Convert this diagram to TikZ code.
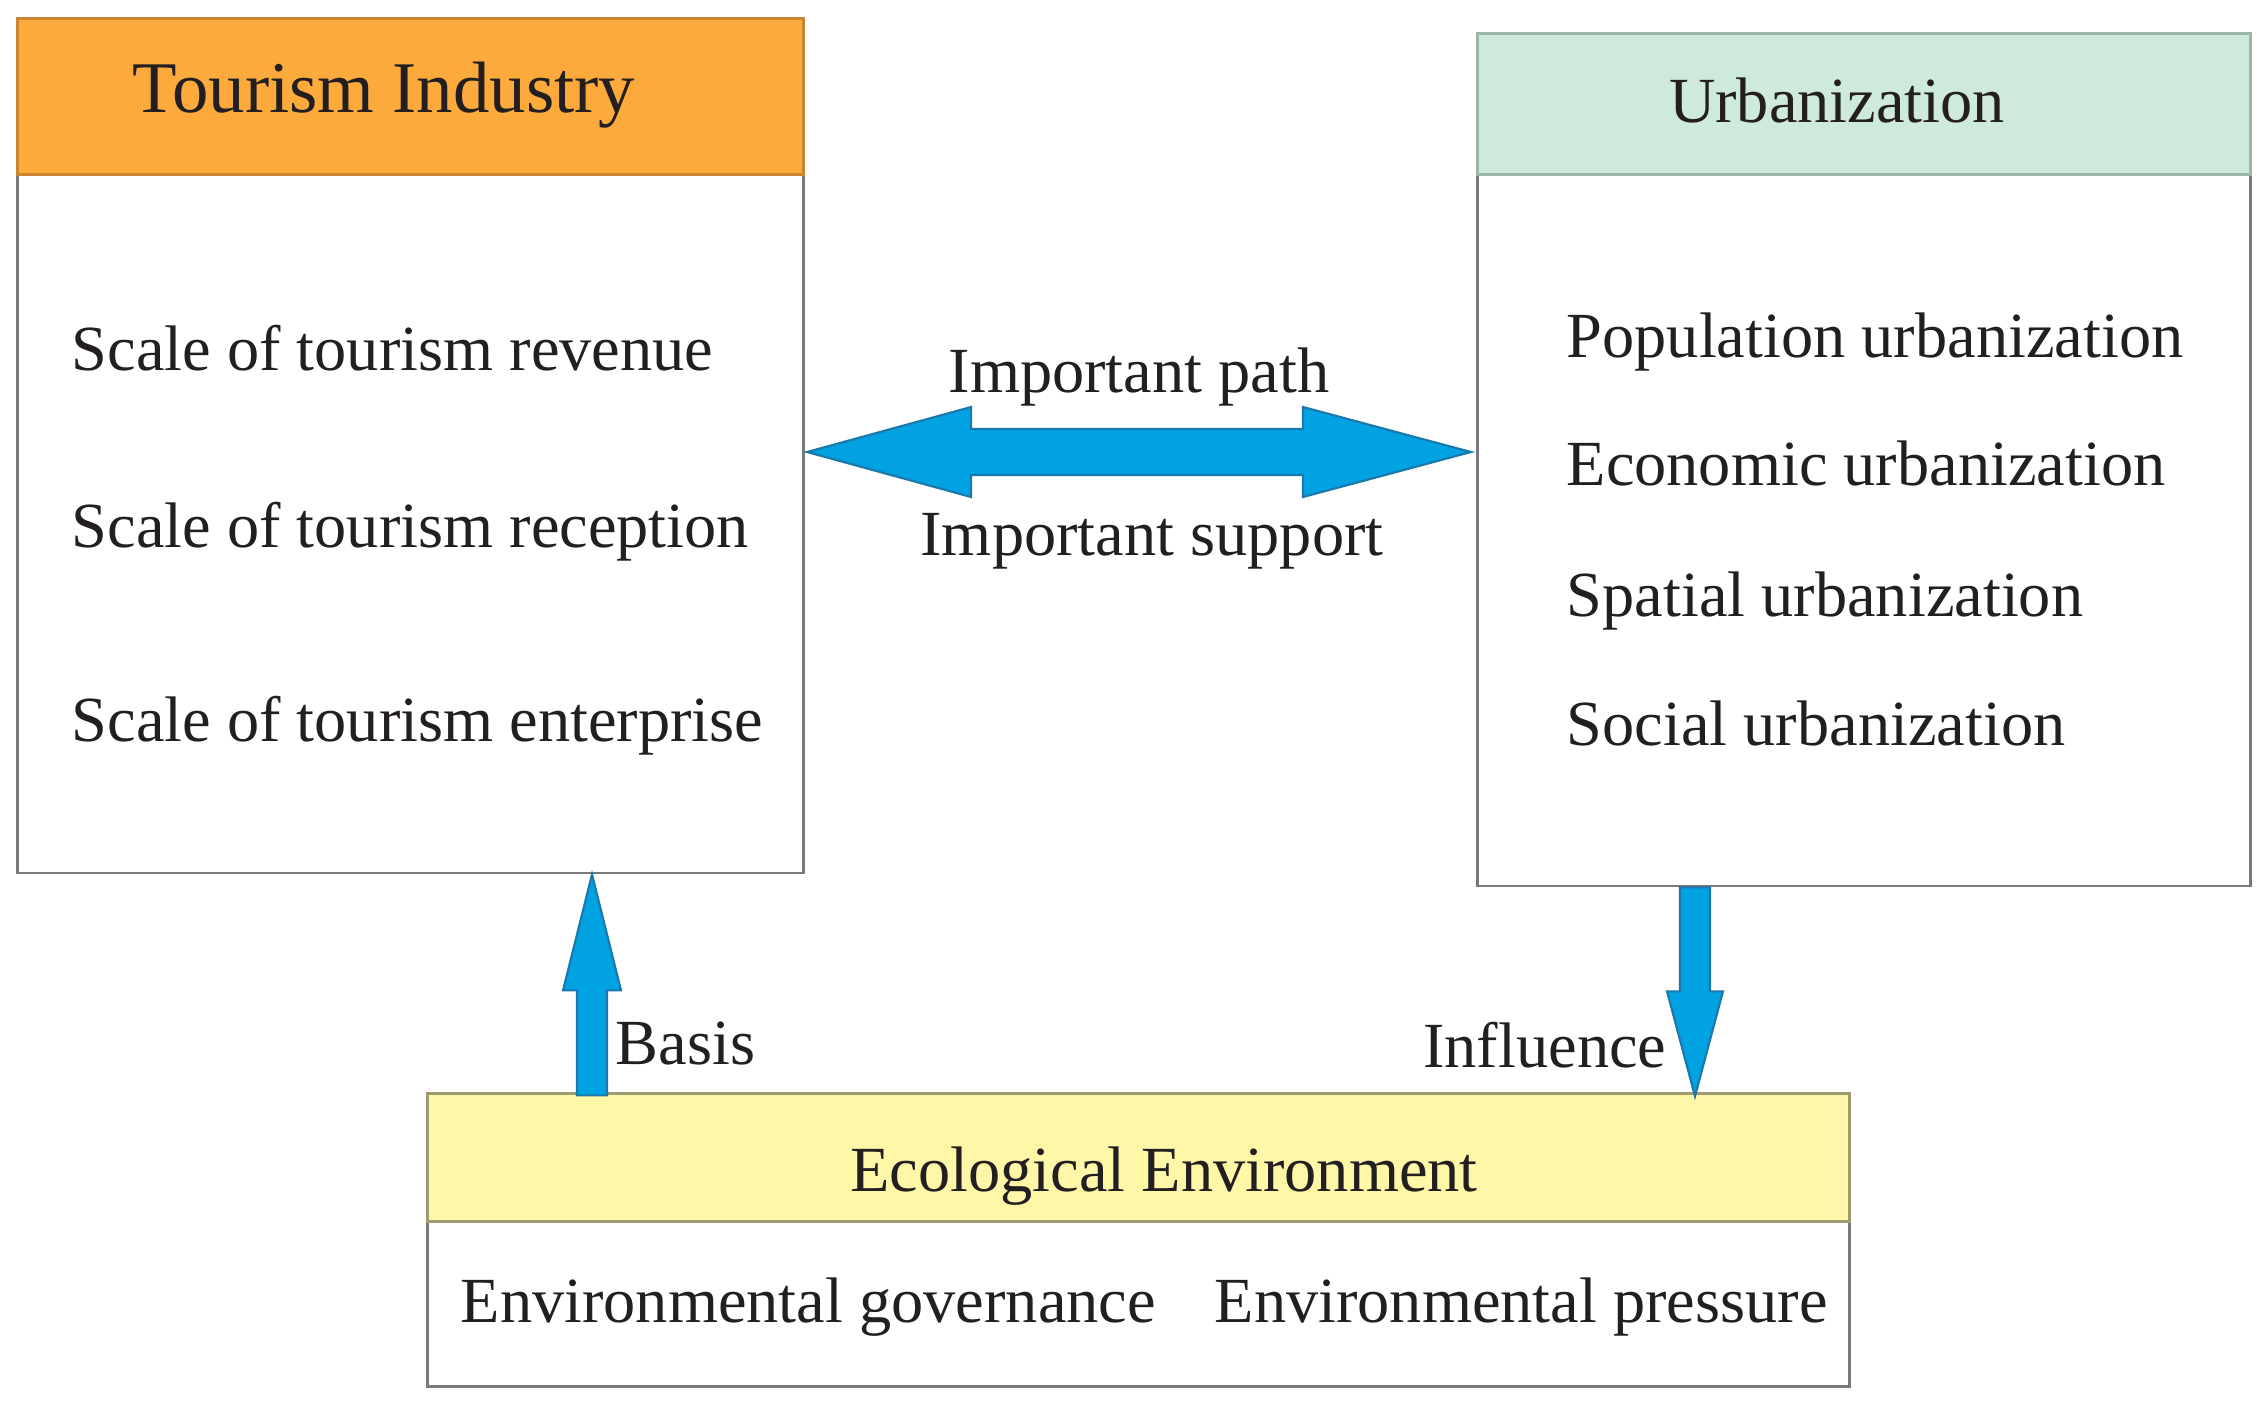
\documentclass[tikz,border=0pt]{standalone}
\usepackage{fontspec}
\setmainfont{Liberation Serif}
\usepackage{tikz}
\usetikzlibrary{arrows,shapes,calc}
\definecolor{tourorange}{HTML}{FDAA3C}
\definecolor{tourline}{HTML}{C98530}
\definecolor{urbgreen}{HTML}{CDEADB}
\definecolor{urbline}{HTML}{9DB8A8}
\definecolor{ecoyellow}{HTML}{FFF7A8}
\definecolor{ecoline}{HTML}{A09A70}
\definecolor{boxgray}{HTML}{7A7A7A}
\definecolor{arrowblue}{HTML}{00A2E2}
\definecolor{arrowedge}{HTML}{1B78AA}
\definecolor{inkgray}{HTML}{231F20}
\tikzstyle{panel}=[rectangle, draw=boxgray
%,fill=white
,line width=0.8pt
,anchor=north west
,inner sep=0pt
]
\tikzstyle{item}=[anchor=base west, inner sep=0pt, text=inkgray, font=\fontsize{18.3}{21}\selectfont]
\tikzstyle{title}=[anchor=base, inner sep=0pt, text=inkgray, font=\fontsize{18.3}{21}\selectfont]
\tikzstyle{bigarrow} = [fill=arrowblue, draw=arrowedge, line width=0.6pt, line join=miter]

\begin{document}
\begin{tikzpicture}[x=0.01cm, y=-0.01cm]
    \useasboundingbox (0,0) rectangle (2263,1402);
    % First we draw the three boxes with their headers
    \node[panel, minimum width=7.86cm, minimum height=8.54cm] (tour) at (16,17) {};
    \node[panel, fill=tourorange, draw=tourline, minimum width=7.86cm, minimum height=1.56cm] (tourhd) at (tour.north west) {};
    \node[panel, minimum width=7.73cm, minimum height=8.52cm] (urb) at (1476,32) {};
    \node[panel, fill=urbgreen, draw=urbline, minimum width=7.73cm, minimum height=1.41cm] (urbhd) at (urb.north west) {};
    \node[panel, minimum width=14.21cm, minimum height=2.93cm] (env) at (426,1092) {};
    \node[panel, fill=ecoyellow, draw=ecoline, minimum width=14.21cm, minimum height=1.28cm] (envhd) at (env.north west) {};

    % Titles
    \node[title, font=\fontsize{20.7}{24}\selectfont] (tourtitle) at (384,112) {Tourism Industry};
    \node[title] (urbtitle) at (1837,122) {Urbanization};
    \node[title] (envtitle) at (1164,1191) {Ecological Environment};

    % Items in the boxes
    \foreach \y/\txt in {370/revenue, 547/reception, 741/enterprise}
        \node[item] (tour-\txt) at (71,\y) {Scale of tourism \txt};
    \foreach \y/\txt in {357/Population, 485/Economic, 616/Spatial, 745/Social}
        \node[item] (urb-\txt) at (1566,\y) {\txt\ urbanization};
    \foreach \x/\txt in {460/governance, 1214/pressure}
        \node[item] (env-\txt) at (\x,1322) {Environmental \txt};

    % Connect boxes with block arrows
    \coordinate (pathL) at (807,452);
    \coordinate (pathR) at (1471,452);
    \filldraw[bigarrow] (pathL) -- +(164,-45) -- +(164,-23) -- +(496,-23) -- +(496,-45) -- (pathR)
        -- +(-168,45) -- +(-168,23) -- +(-500,23) -- +(-500,45) -- cycle;
    \node[title] (pathlbl) at (1139,392) {Important path};
    \node[title] (supportlbl) at (1152,555) {Important support};

    \coordinate (basisTip) at (tour.south -| 592,0);
    \filldraw[bigarrow] (basisTip) -- +(29,116) -- +(15,116) -- +(15,221) -- +(-15,221) -- +(-15,116) -- +(-29,116) -- cycle;
    \node[item] (basislbl) at (615,1064) {Basis};

    \coordinate (inflTop) at (urb.south -| 1695,0);
    \filldraw[bigarrow] (inflTop) -- +(15,0) -- +(15,104) -- +(28,104) -- +(0,209) -- +(-28,104) -- +(-15,104) -- +(-15,0) -- cycle;
    \node[item, anchor=base east] (infllbl) at (1667,1067) {Influence};
\end{tikzpicture}
\end{document}
